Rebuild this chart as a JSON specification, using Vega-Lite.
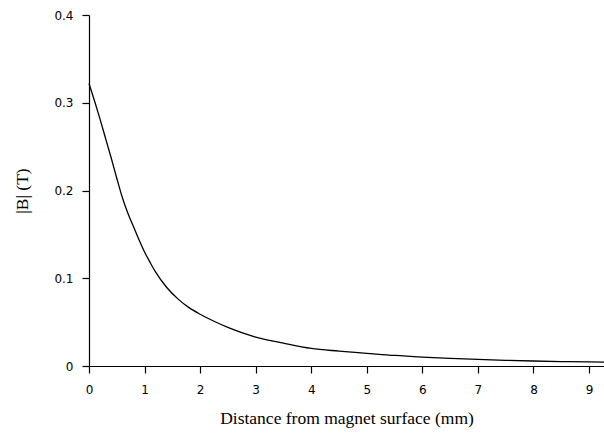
{
  "$schema": "https://vega.github.io/schema/vega-lite/v6.json",
  "autosize": "none",
  "width": 515,
  "height": 351,
  "padding": {"left": 89, "top": 15, "right": 0, "bottom": 68},
  "background": "white",
  "config": {
    "view": {"stroke": null},
    "axis": {
      "grid": false,
      "domainColor": "black",
      "domainWidth": 1.2,
      "tickColor": "black",
      "tickWidth": 1.2,
      "tickSize": 7,
      "labelFont": "DejaVu Sans",
      "labelFontSize": 12,
      "labelColor": "black",
      "titleFont": "Liberation Serif",
      "titleFontSize": 17.5,
      "titleFontWeight": "normal",
      "titleColor": "black"
    }
  },
  "data": {
    "values": [
      {"x": 0, "b": 0.322},
      {"x": 0.1, "b": 0.302},
      {"x": 0.2, "b": 0.281},
      {"x": 0.3, "b": 0.259},
      {"x": 0.4, "b": 0.237},
      {"x": 0.5, "b": 0.214},
      {"x": 0.6, "b": 0.192},
      {"x": 0.7, "b": 0.174},
      {"x": 0.8, "b": 0.159},
      {"x": 0.9, "b": 0.144},
      {"x": 1.0, "b": 0.130},
      {"x": 1.1, "b": 0.118},
      {"x": 1.2, "b": 0.107},
      {"x": 1.4, "b": 0.0895},
      {"x": 1.6, "b": 0.0765},
      {"x": 1.8, "b": 0.0665},
      {"x": 2.0, "b": 0.059},
      {"x": 2.25, "b": 0.051},
      {"x": 2.5, "b": 0.044},
      {"x": 2.75, "b": 0.038},
      {"x": 3.0, "b": 0.033},
      {"x": 3.5, "b": 0.026},
      {"x": 4.0, "b": 0.020},
      {"x": 4.5, "b": 0.017},
      {"x": 5.0, "b": 0.0145},
      {"x": 5.5, "b": 0.012},
      {"x": 6.0, "b": 0.0102},
      {"x": 6.5, "b": 0.0088},
      {"x": 7.0, "b": 0.0076},
      {"x": 7.5, "b": 0.0065},
      {"x": 8.0, "b": 0.0057},
      {"x": 8.5, "b": 0.0051},
      {"x": 9.0, "b": 0.0047},
      {"x": 9.27, "b": 0.0045}
    ]
  },
  "mark": {"type": "line", "color": "black", "strokeWidth": 1.3, "interpolate": "monotone"},
  "encoding": {
    "x": {
      "field": "x",
      "type": "quantitative",
      "scale": {"domain": [0, 9.27], "nice": false},
      "axis": {"values": [0,1,2,3,4,5,6,7,8,9], "title": "Distance from magnet surface (mm)", "labelPadding": 11, "titlePadding": 14, "labelFlush": false}
    },
    "y": {
      "field": "b",
      "type": "quantitative",
      "scale": {"domain": [0, 0.4], "nice": false},
      "axis": {"values": [0, 0.1, 0.2, 0.3, 0.4], "format": ".1~f", "title": "|B| (T)", "labelPadding": 9, "titlePadding": 22}
    }
  }
}
